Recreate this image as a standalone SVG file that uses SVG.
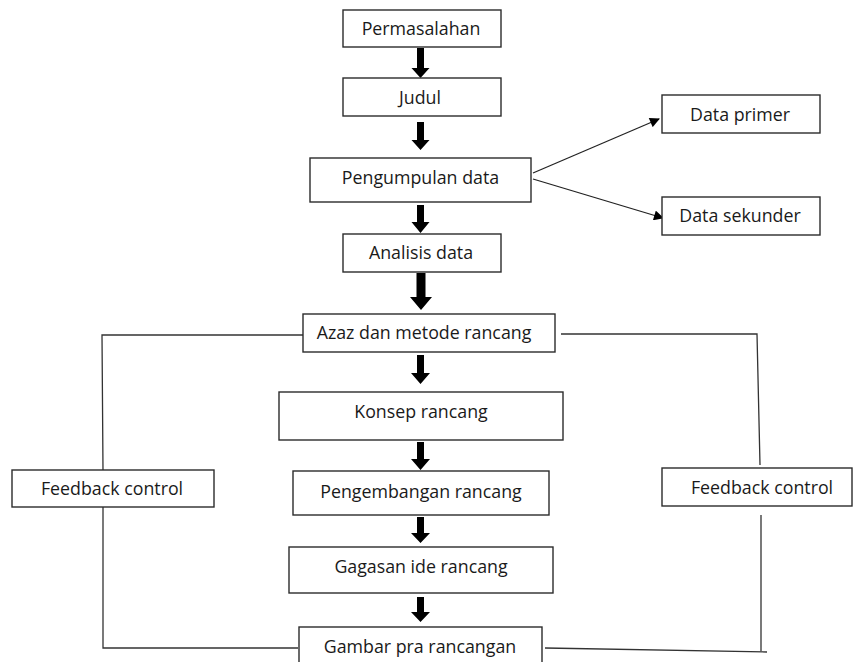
<svg xmlns="http://www.w3.org/2000/svg" width="853" height="662" viewBox="0 0 853 662">
<style>
.box{fill:#fff;stroke:#2b2b2b;stroke-width:1.4}
.lbl{font-family:"Open Sans","Noto Sans",sans-serif;font-size:17.8px;fill:#1a1a1a;text-anchor:middle}
.blk{fill:#000}
.ln{fill:none;stroke:#333;stroke-width:1.3}
.ar{fill:none;stroke:#222;stroke-width:1.3;marker-end:url(#ah)}
</style>
<defs>
<marker id="ah" viewBox="0 0 10 10" refX="9" refY="5" markerWidth="11" markerHeight="10" markerUnits="userSpaceOnUse" orient="auto">
<path d="M0,0 L10,5 L0,10 Z" fill="#000"/>
</marker>
</defs>
<rect width="853" height="662" fill="#fff"/>
<g id="connectors">
<path class="blk" d="M417,48 V68 H411.5 L420.5,78 L429.5,68 H424 V48 Z"/>
<path class="blk" d="M417,122 V140 H411.5 L420.5,150 L429.5,140 H424 V122 Z"/>
<path class="blk" d="M417,205 V222 H411.5 L420.5,233 L429.5,222 H424 V205 Z"/>
<path class="blk" d="M416.5,273 V297 H410 L421,310 L432,297 H425.5 V273 Z"/>
<path class="blk" d="M417,355 V373 H411 L420.5,384 L430,373 H424 V355 Z"/>
<path class="blk" d="M417,442 V459 H411 L420.5,470 L430,459 H424 V442 Z"/>
<path class="blk" d="M417,517 V533 H411 L420.5,543 L430,533 H424 V517 Z"/>
<path class="blk" d="M417,597 V612 H411 L420.5,622 L430,612 H424 V597 Z"/>
<line class="ar" x1="533" y1="173" x2="659" y2="119"/>
<line class="ar" x1="533" y1="179" x2="663" y2="218"/>
<path class="ln" d="M303,335 H102 L103,471"/>
<path class="ln" d="M103,507 V648 H298"/>
<path class="ln" d="M561,334 H757 L760,465"/>
<path class="ln" d="M761,515 V651 M545,648 L767,652"/>
</g>
<g id="permasalahan"><rect class="box" x="343" y="10" width="158" height="37"/><text class="lbl" x="421" y="35">Permasalahan</text></g>
<g id="judul"><rect class="box" x="343" y="78" width="158" height="38"/><text class="lbl" x="420" y="104">Judul</text></g>
<g id="pengumpulan"><rect class="box" x="310" y="158" width="221" height="44"/><text class="lbl" x="420.5" y="184">Pengumpulan data</text></g>
<g id="data-primer"><rect class="box" x="662" y="95" width="158" height="38"/><text class="lbl" x="740" y="121">Data primer</text></g>
<g id="data-sekunder"><rect class="box" x="662" y="197" width="158" height="38"/><text class="lbl" x="740" y="222">Data sekunder</text></g>
<g id="analisis"><rect class="box" x="343" y="234" width="158" height="38"/><text class="lbl" x="421" y="259">Analisis data</text></g>
<g id="azaz"><rect class="box" x="303" y="314" width="252" height="38"/><text class="lbl" x="424" y="339">Azaz dan metode rancang</text></g>
<g id="konsep"><rect class="box" x="279" y="392" width="284" height="48"/><text class="lbl" x="421" y="418">Konsep rancang</text></g>
<g id="pengembangan"><rect class="box" x="293" y="471" width="256" height="44"/><text class="lbl" x="421" y="498">Pengembangan rancang</text></g>
<g id="gagasan"><rect class="box" x="289" y="547" width="264" height="46"/><text class="lbl" x="421" y="573">Gagasan ide rancang</text></g>
<g id="gambar"><rect class="box" x="299" y="627" width="243" height="45"/><text class="lbl" x="420" y="653">Gambar pra rancangan</text></g>
<g id="feedback-left"><rect class="box" x="12" y="470" width="202" height="37"/><text class="lbl" x="112" y="495">Feedback control</text></g>
<g id="feedback-right"><rect class="box" x="662" y="468" width="190" height="38"/><text class="lbl" x="762" y="494">Feedback control</text></g>
</svg>
